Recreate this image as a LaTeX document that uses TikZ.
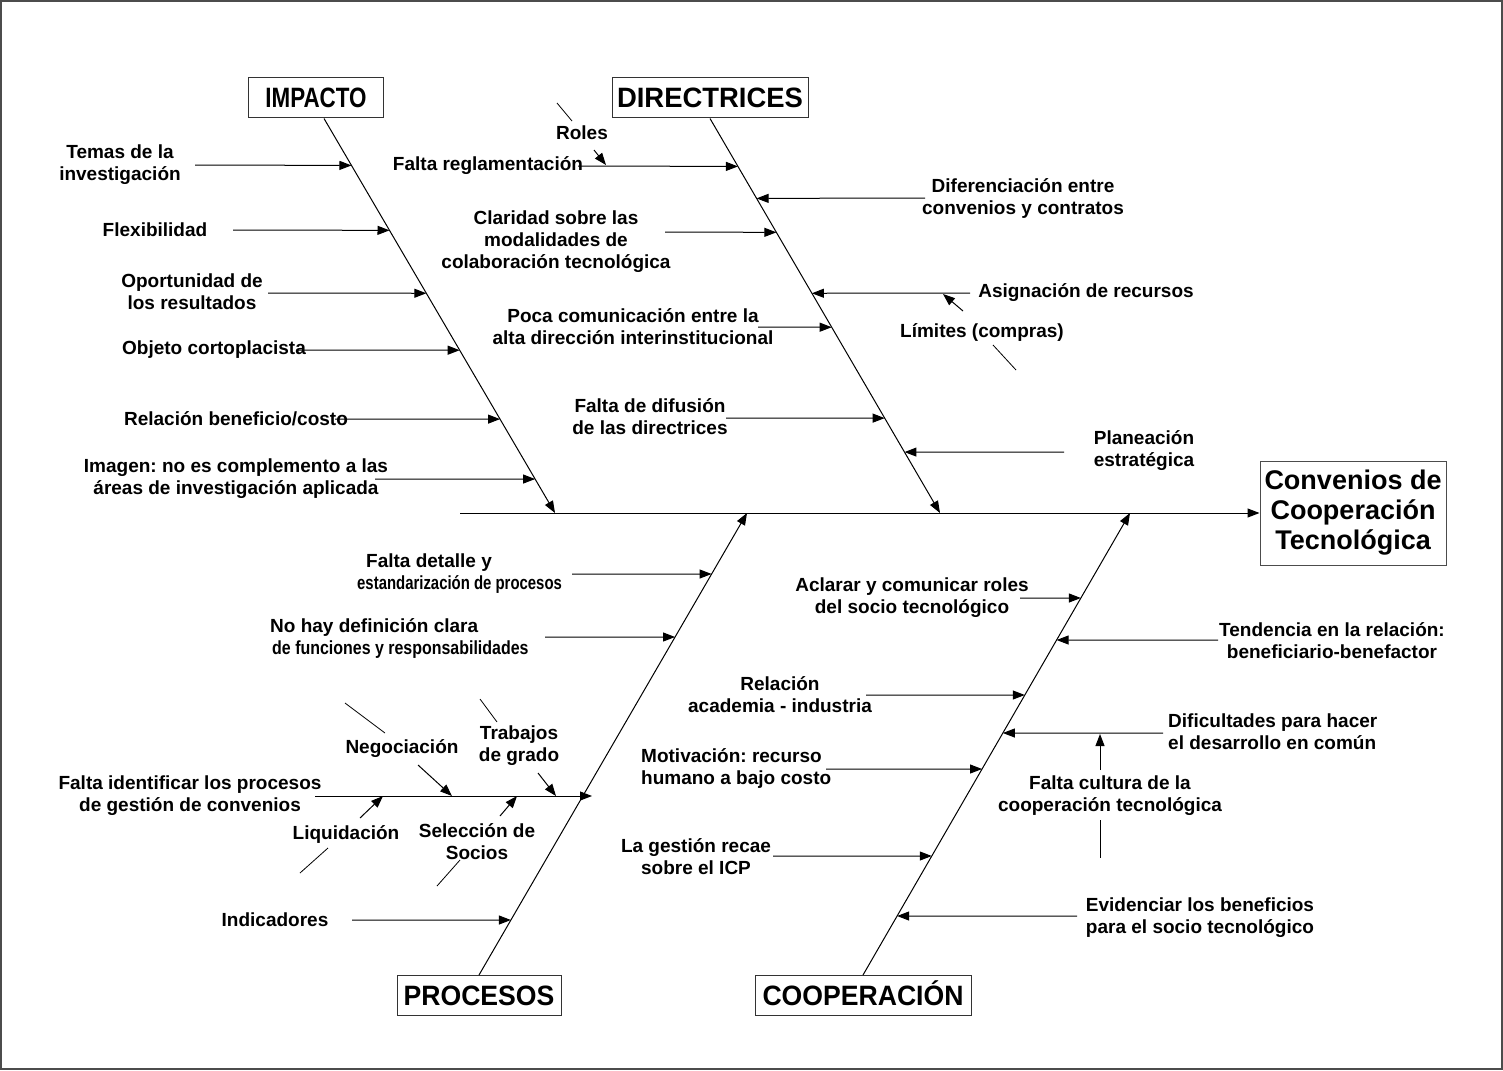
\documentclass[tikz,border=0pt]{standalone}
\usepackage{fontspec}
\usepackage{graphicx}
\setmainfont{Liberation Sans}
\usetikzlibrary{arrows.meta,calc}
\newcommand\lblsize{\fontsize{19}{22}\selectfont\bfseries\frenchspacing}
\newcommand\headsize{\fontsize{28}{32}\selectfont\bfseries}

\begin{document}
\begin{tikzpicture}[x=1pt,y=-1pt,
  lbl/.style={font=\lblsize, align=center, inner sep=0pt},
  lbll/.style={font=\lblsize, align=left, inner sep=0pt, anchor=west},
  head/.style={draw=black!80, line width=1pt, font=\headsize, inner sep=0pt,
               minimum height=40pt, text height=20pt, text depth=0pt},
  arr/.style={line width=1pt, -{Triangle[length=12pt,width=9pt]}},
  tick/.style={line width=0.8pt}]

\useasboundingbox (0,0) rectangle (1503,1070);
\draw[black!70, line width=2pt] (1,1) rectangle (1502,1069);

% category boxes and effect box
\node[head, minimum width=135pt] (imp) at (316,98) {\scalebox{0.80}[1]{IMPACTO}};
\node[head, minimum width=196pt] (dir) at (710,98) {\scalebox{0.98}[1]{DIRECTRICES}};
\node[head, minimum width=164pt] (pro) at (479,995.5) {\scalebox{0.95}[1]{PROCESOS}};
\node[head, minimum width=216pt] (coo) at (863,995.5) {\scalebox{0.95}[1]{COOPERACIÓN}};
\node[draw=black!70, line width=1pt, minimum width=186pt, minimum height=104pt,
      align=center, inner sep=0pt, font=\fontsize{27}{30}\selectfont\bfseries]
      (conv) at (1353,513) {Convenios de\\Cooperación\\Tecnológica};

% spine and main bones
\coordinate (sp0) at (460,513);
\coordinate (impA) at ($(imp.south)+(8,0)$);
\coordinate (impB) at (555,513);
\coordinate (dirB) at (940,513);
\coordinate (proB) at (747,513);
\coordinate (cooB) at (1130,513);
\draw[arr] (sp0) -- (conv.west);
\draw[arr] (impA) -- (impB);
\draw[arr] (dir.south) -- (dirB);
\draw[arr] (pro.north) -- (proB);
\draw[arr] (coo.north) -- (cooB);

% ---------- IMPACTO ----------
\foreach \n/\y/\tx in {1/165/195, 2/230/233, 3/293/268, 4/350/298, 5/419/335, 6/479/375}{
  \coordinate (ia\n) at ($(impA)!{(\y-118)/395}!(impB)$);
  \coordinate (it\n) at (\tx,\y);
  \draw[arr] (it\n) -- (ia\n);
}
\node[lbl] (il1) at (120,165) {Temas de la\\investigación};
\node[lbl] (il2) at (155,230) {Flexibilidad};
\node[lbl] (il3) at (192,292) {Oportunidad de\\los resultados};
\node[lbl] (il4) at (214,350) {Objeto cortoplacista};
\node[lbl] (il5) at (236,419) {Relación beneficio/costo};
\node[lbl] (il6) at (236,479) {Imagen: no es complemento a las\\áreas de investigación aplicada};

% ---------- DIRECTRICES ----------
\foreach \n/\y/\tx in {1/166/578, 2/198/925, 3/232/665, 4/293/970, 5/327/758, 6/418/726, 7/452/1064}{
  \coordinate (da\n) at ($(dir.south)!{(\y-118)/395}!(dirB)$);
  \coordinate (dt\n) at (\tx,\y);
  \draw[arr] (dt\n) -- (da\n);
}
\node[lbl] (dl1) at (488,166) {Falta reglamentación};
\node[lbl] (dl2) at (1023,199) {Diferenciación entre\\convenios y contratos};
\node[lbl] (dl3) at (556,242) {Claridad sobre las\\modalidades de\\colaboración tecnológica};
\node[lbl] (dl4) at (1086,293) {Asignación de recursos};
\node[lbl] (dl5) at (633,327) {Poca comunicación entre la\\alta dirección interinstitucional};
\node[lbl] (dl6) at (650,417) {Falta de difusión\\de las directrices};
\node[lbl] (dl7) at (1144,451) {Planeación\\estratégica};
% sub-causes
\node[lbl] (roles) at (582,133) {Roles};
\coordinate (ro1) at (557,103); \coordinate (ro2) at (572,121);
\coordinate (ro3) at (594,150); \coordinate (ro4) at (606,165);
\draw[tick] (ro1) -- (ro2);
\draw[arr] (ro3) -- (ro4);
\node[lbl] (lim) at (982,333) {Límites (compras)};
\coordinate (li1) at (963,311); \coordinate (li2) at (943,294);
\coordinate (li3) at (993,345); \coordinate (li4) at (1016,370);
\draw[arr] (li1) -- (li2);
\draw[tick] (li3) -- (li4);

% ---------- PROCESOS ----------
\foreach \n/\y/\tx in {1/574/572, 2/637/545, 4/920/352}{
  \coordinate (pa\n) at ($(pro.north)!{(975-\y)/462}!(proB)$);
  \coordinate (pt\n) at (\tx,\y);
  \draw[arr] (pt\n) -- (pa\n);
}
\coordinate (pt3) at (315,796); \coordinate (pa3) at (592,796);
\draw[arr] (pt3) -- (pa3);
\node[lbll] (pl1) at (357,574) {\hspace*{9pt}Falta detalle y\\\scalebox{0.785}[1]{estandarización de procesos}};
\node[lbll] (pl2) at (270,638) {No hay definición clara\\\hspace*{2pt}\scalebox{0.84}[1]{de funciones y responsabilidades}};
\node[lbl] (pl3) at (190,796) {Falta identificar los procesos\\de gestión de convenios};
\node[lbl] (pl4) at (275,920) {Indicadores};
% sub-causes on the process-identification branch
\node[lbl] (neg) at (402,749) {Negociación};
\node[lbl] (trab) at (519,746) {Trabajos\\de grado};
\node[lbl] (liq) at (346,834) {Liquidación};
\node[lbl] (sel) at (477,842) {Selección de\\Socios};
\coordinate (ng1) at (345,703); \coordinate (ng2) at (385,733);
\coordinate (ng3) at (418,765); \coordinate (ng4) at (452,796);
\coordinate (tg1) at (480,699); \coordinate (tg2) at (497,722);
\coordinate (tg3) at (538,773); \coordinate (tg4) at (556,796);
\coordinate (lq1) at (360,818); \coordinate (lq2) at (383,796);
\coordinate (lq3) at (300,873); \coordinate (lq4) at (328,848);
\coordinate (sl1) at (500,816); \coordinate (sl2) at (517,796);
\coordinate (sl3) at (437,886); \coordinate (sl4) at (460,860);
\draw[tick] (ng1) -- (ng2); \draw[arr] (ng3) -- (ng4);
\draw[tick] (tg1) -- (tg2); \draw[arr] (tg3) -- (tg4);
\draw[arr] (lq1) -- (lq2); \draw[tick] (lq3) -- (lq4);
\draw[arr] (sl1) -- (sl2); \draw[tick] (sl3) -- (sl4);

% ---------- COOPERACION ----------
\foreach \n/\y/\tx in {1/598/1020, 2/640/1218, 3/695/866, 4/733/1163, 5/769/826, 6/856/773, 7/916/1077}{
  \coordinate (ca\n) at ($(coo.north)!{(975-\y)/462}!(cooB)$);
  \coordinate (ct\n) at (\tx,\y);
  \draw[arr] (ct\n) -- (ca\n);
}
\node[lbl] (cl1) at (912,598) {Aclarar y comunicar roles\\del socio tecnológico};
\node[lbl] (cl2) at (1332,641) {Tendencia en la relación:\\beneficiario-benefactor};
\node[lbl] (cl3) at (780,695) {Relación\\academia - industria};
\node[lbll] (cl4) at (1168,732) {Dificultades para hacer\\el desarrollo en común};
\node[lbll] (cl5) at (641,768) {Motivación: recurso\\humano a bajo costo};
\node[lbl] (cl6) at (696,857) {La gestión recae\\sobre el ICP};
\node[lbl] (cl7) at (1200,918) {Evidenciar los beneficios\\para el socio tecnológico};
\node[lbl] (cult) at (1110,796) {Falta cultura de la\\cooperación tecnológica};
\coordinate (cu1) at (1100,770); \coordinate (cu2) at (1100,734);
\coordinate (cu3) at (1100,820); \coordinate (cu4) at (1100,858);
\draw[arr] (cu1) -- (cu2);
\draw[tick] (cu3) -- (cu4);

\end{tikzpicture}
\end{document}
